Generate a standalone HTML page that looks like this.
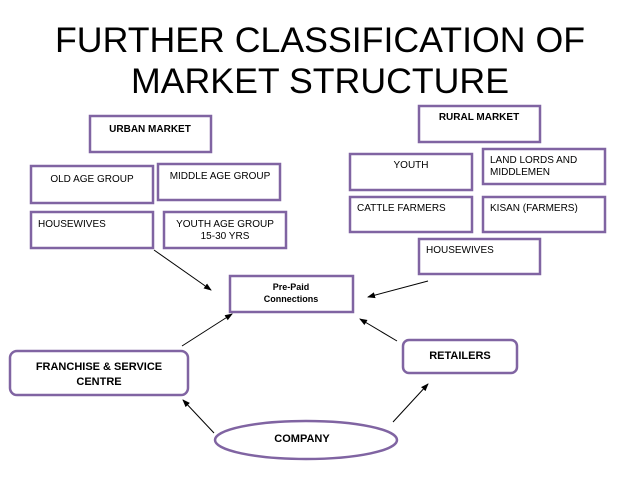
<!DOCTYPE html>
<html><head><meta charset="utf-8"><style>body{margin:0;background:#fff}</style></head><body>
<svg width="638" height="479" viewBox="0 0 638 479" xmlns="http://www.w3.org/2000/svg" font-family="Liberation Sans, Arial, sans-serif">
<defs><marker id="a" markerWidth="8" markerHeight="8" refX="7" refY="4" orient="auto" markerUnits="userSpaceOnUse"><path d="M0,1 L8,4 L0,7 z" fill="#000"/></marker></defs>
<text x="320" y="52" font-size="35" text-anchor="middle" textLength="530" lengthAdjust="spacingAndGlyphs">FURTHER CLASSIFICATION OF</text>
<text x="320" y="93" font-size="35" text-anchor="middle" textLength="378" lengthAdjust="spacingAndGlyphs">MARKET STRUCTURE</text>
<g fill="#fff" stroke="#8064a2" stroke-width="2.5">
<rect x="90" y="116" width="121" height="36"/>
<rect x="31" y="166" width="122" height="37"/>
<rect x="158" y="164" width="122" height="36"/>
<rect x="31" y="212" width="122" height="36"/>
<rect x="164" y="212" width="122" height="36"/>
<rect x="419" y="106" width="121" height="36"/>
<rect x="350" y="154" width="122" height="36"/>
<rect x="483" y="149" width="122" height="35"/>
<rect x="350" y="197" width="122" height="35"/>
<rect x="483" y="197" width="122" height="35"/>
<rect x="419" y="239" width="121" height="35"/>
<rect x="230" y="276" width="123" height="36"/>
<rect x="10" y="351" width="178" height="44" rx="7"/>
<rect x="403" y="340" width="114" height="33" rx="6"/>
<ellipse cx="306" cy="440" rx="91" ry="19"/>
</g>
<g font-size="10" fill="#000">
<text x="150" y="132" text-anchor="middle" font-weight="bold">URBAN MARKET</text>
<text x="92" y="182" text-anchor="middle">OLD AGE GROUP</text>
<text x="220" y="179" text-anchor="middle">MIDDLE AGE GROUP</text>
<text x="38" y="227">HOUSEWIVES</text>
<text x="225" y="227" text-anchor="middle">YOUTH AGE GROUP</text>
<text x="225" y="239" text-anchor="middle">15-30 YRS</text>
<text x="479" y="120" text-anchor="middle" font-weight="bold">RURAL MARKET</text>
<text x="411" y="168" text-anchor="middle">YOUTH</text>
<text x="490" y="163">LAND LORDS AND</text>
<text x="490" y="175">MIDDLEMEN</text>
<text x="357" y="211">CATTLE FARMERS</text>
<text x="490" y="211">KISAN (FARMERS)</text>
<text x="426" y="253">HOUSEWIVES</text>
<text x="291" y="290" text-anchor="middle" font-size="9" font-weight="bold">Pre-Paid</text>
<text x="291" y="302" text-anchor="middle" font-size="9" font-weight="bold">Connections</text>
<text x="99" y="370" text-anchor="middle" font-size="11" font-weight="bold">FRANCHISE &amp; SERVICE</text>
<text x="99" y="385" text-anchor="middle" font-size="11" font-weight="bold">CENTRE</text>
<text x="460" y="359" text-anchor="middle" font-size="11" font-weight="bold">RETAILERS</text>
<text x="302" y="442" text-anchor="middle" font-size="11" font-weight="bold">COMPANY</text>
</g>
<g stroke="#000" stroke-width="1" marker-end="url(#a)">
<line x1="154" y1="250" x2="211" y2="290"/>
<line x1="428" y1="281" x2="368" y2="297"/>
<line x1="182" y1="346" x2="232" y2="314"/>
<line x1="397" y1="341" x2="360" y2="319"/>
<line x1="214" y1="433" x2="183" y2="400"/>
<line x1="393" y1="422" x2="428" y2="384"/>
</g>
</svg>
</body></html>
